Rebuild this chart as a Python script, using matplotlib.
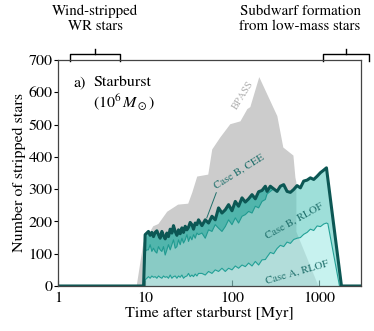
import numpy as np
import matplotlib
matplotlib.use('Agg')
import matplotlib.pyplot as plt

plt.rcParams['font.family'] = ['STIXGeneral', 'DejaVu Serif']
plt.rcParams['mathtext.fontset'] = 'stix'

# --- data (time in Myr, number of stripped stars) ---
t_grid = [10.0, 10.46, 10.91, 11.41, 11.94, 12.46, 13.03, 13.63, 14.22, 14.87,
          15.56, 16.23, 16.98, 17.76, 18.52, 19.38, 20.27, 21.15, 22.12, 23.14,
          24.14, 25.25, 26.41, 27.55, 28.83, 30.15, 31.45, 32.89, 34.41, 35.91,
          37.55, 39.28, 40.98,
          44.85, 48.93, 53.41, 58.44, 63.76, 69.58, 76.14, 83.08, 90.70, 99.22,
          108.3, 118.1, 129.3, 141.1, 154.0, 168.4, 183.8, 200.6, 219.5, 239.5,
          250.6, 273.4, 298.4, 326.5, 356.2, 388.9, 425.3, 464.2, 506.5, 554.2,
          604.7, 659.9, 722.2, 788.0, 860.2, 941.0, 1027, 1121, 1204]

total = [159, 164, 169, 157, 166, 153, 166, 171, 159, 148, 169, 156, 146, 164, 153,
         176, 164, 187, 169, 157, 174, 162, 180, 166, 185, 174, 182, 197, 190, 176,
         195, 190, 205,
         187, 205, 195, 216, 205, 242, 226, 236, 252, 233, 262, 247, 273, 260, 270,
         283, 270, 292, 296, 309,
         293, 309, 301, 293, 309, 314, 293, 290, 299, 311, 304, 325, 328, 335, 330,
         340, 351, 359, 366]

case_b_rlof = [107, 112, 112, 128, 107, 117, 107, 102, 122, 112, 107, 122, 96, 112, 128,
               112, 128, 143, 117, 122, 143, 128, 148, 133, 143, 159, 138, 153, 143, 159,
               148, 164, 159,
               164, 148, 174, 169, 190, 179, 169, 184, 205, 190, 211, 195, 216, 221, 231,
               226, 247, 242, 262, 268,
               285, 293, 301, 293, 309, 314, 293, 290, 299, 311, 304, 325, 328, 335, 330,
               340, 351, 359, 366]

case_a_rlof = [19, 24, 29, 24, 31, 27, 29, 24, 31, 27, 24, 31, 27, 29, 24, 34, 24, 29,
               31, 24, 31, 27, 34, 24, 29, 31, 39, 29, 34, 29, 37, 31, 39,
               39, 34, 45, 39, 50, 45, 55, 45, 55, 50, 62, 55, 65, 60, 71, 62, 76, 65,
               81, 82,
               90, 104, 100, 116, 126, 122, 136, 132, 144, 148, 150, 160, 166, 176, 172,
               186, 184, 192, 195]

# onset and cut-off of the populations
t_start = [9.6]
t_end_b = [1790]
t_end_a = [1250, 1700]
n_end_a = [193, 0]

bpass_t = [8.0, 9.55, 12.4, 14.2, 17.9, 23.9, 31.2, 34.7, 39.6, 53, 58.9, 72.8,
           94.8, 124, 149, 161, 204, 329, 385, 503, 530, 544, 544, 975]
bpass_n = [0, 134, 185, 192, 230, 252, 255, 289, 339, 345, 423, 460, 501, 510,
           548, 554, 647, 526, 429, 404, 336, 321, 168, 0]

# --- build curves ---
tt = np.array(t_start + t_grid + t_end_b)
tot = np.array([0] + total + [0])
bb = np.array([0] + case_b_rlof + [0])
ta = np.array(t_start + t_grid + t_end_a)
aa = np.array([0] + case_a_rlof + n_end_a)

fig = plt.figure(figsize=(3.74, 3.31), dpi=100)
ax = fig.add_axes([58 / 374, 1 - 286 / 331, 303 / 374, 226 / 331])

ax.fill(bpass_t, bpass_n, color='#cccccc', lw=0, zorder=1)

# bands (semi-transparent so the BPASS shape shows through)
ax.fill(np.concatenate([tt, tt[::-1]]), np.concatenate([tot, bb[::-1]]),
        color='#00a698', alpha=0.6, lw=0, zorder=2)
ax.fill(np.concatenate([tt, ta[::-1]]), np.concatenate([bb, aa[::-1]]),
        color='#5dcbc1', alpha=0.6, lw=0, zorder=2)
ax.fill(ta, aa, color='#a2eae5', alpha=0.6, lw=0, zorder=2)

ax.plot(ta, aa, color='#21a096', lw=0.8, zorder=3)
ax.plot(tt, bb, color='#1f9a90', lw=0.8, zorder=3)
ax.plot([1] + list(tt) + [3000], [0] + list(tot) + [0], color='#0c5754', lw=2.2,
        zorder=4, solid_joinstyle='round')

ax.set_xscale('log')
ax.set_xlim(1, 3000)
ax.set_ylim(0, 700)
ax.set_xticks([1, 10, 100, 1000])
ax.set_xticklabels(['1', '10', '100', '1000'])
ax.xaxis.set_minor_locator(matplotlib.ticker.NullLocator())
ax.set_yticks(range(0, 701, 100))
ax.tick_params(axis='x', direction='in', length=4, labelsize=11.5, pad=4)
ax.tick_params(axis='y', direction='out', length=3, labelsize=11.5, pad=1)
for s in ax.spines.values():
    s.set_color('#444444')
    s.set_linewidth(0.9)
    s.set_zorder(5)

ax.set_xlabel('Time after starburst [Myr]', fontsize=11.5, labelpad=1)
ax.set_ylabel('Number of stripped stars', fontsize=11.5, labelpad=2)

# labels
ax.text(0.05, 0.93, 'a)', transform=ax.transAxes, fontsize=11.5, va='top')
ax.text(0.115, 0.93, 'Starburst', transform=ax.transAxes, fontsize=11.5, va='top')
ax.text(0.115, 0.86, r'$(10^6\,M_\odot)$', transform=ax.transAxes, fontsize=11.5, va='top')
ax.text(132, 590, 'BPASS', rotation=58, color='#b0b0b0', fontsize=7.5,
        ha='center', va='center', zorder=6)
ax.text(119, 355, 'Case B, CEE', rotation=32, color='#1f6f6b', fontsize=7.8,
        ha='center', va='center', zorder=6)
ax.plot([65.5, 51], [289, 211], color='#1f6f6b', lw=0.7, zorder=6)
ax.text(516, 202, 'Case B, RLOF', rotation=29, color='#1f6f6b', fontsize=7.8,
        ha='center', va='center', zorder=6)
ax.text(554, 45, 'Case A, RLOF', rotation=16, color='#1f6f6b', fontsize=7.8,
        ha='center', va='center', zorder=6)

# brackets above the axes
for x0, x1 in [(1.37, 5.16), (1107, 3660)]:
    xm = 10 ** ((np.log10(x0) + np.log10(x1)) / 2)
    ax.plot([x0, x0, x1, x1], [697, 719, 719, 697], color='black', lw=1.0, clip_on=False)
    ax.plot([xm, xm], [719, 734], color='black', lw=1.0, clip_on=False)

fig.text(95 / 374, 1 - 19 / 331, 'Wind-stripped\nWR stars', ha='center', va='center',
         fontsize=10.8, linespacing=1.15)
fig.text(300 / 374, 1 - 19 / 331, 'Subdwarf formation\nfrom low-mass stars', ha='center',
         va='center', fontsize=10.8, linespacing=1.15)

fig.savefig('out.png', dpi=100)
